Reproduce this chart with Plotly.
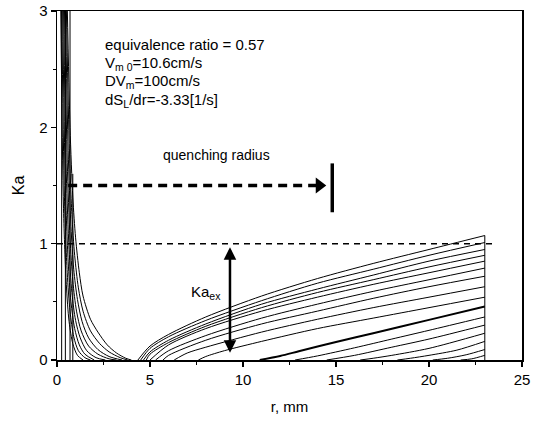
import plotly.graph_objects as go

# ---- data ----
# right-hand family (r in mm, Ka)
right_r = [
    [4.35, 5, 6, 8, 11, 14, 17, 20, 23],
    [4.5, 5, 6, 8, 11, 14, 17, 20, 23],
    [4.65, 5, 6, 8, 11, 14, 17, 20, 23],
    [4.8, 5, 6, 8, 11, 14, 17, 20, 23],
    [5.0, 6, 8, 11, 14, 17, 20, 23],
    [5.3, 6, 8, 11, 14, 17, 20, 23],
    [5.7, 6, 8, 11, 14, 17, 20, 23],
    [6.3, 7, 8, 11, 14, 17, 20, 23],
    [7.6, 8, 9, 11, 14, 17, 20, 23],
    [10.9, 12, 13, 15, 17, 20, 23],
    [12.8, 14, 16, 18, 20, 23],
    [14.5, 16, 18, 20, 23],
    [16.3, 17, 18, 20, 23],
    [18.3, 19, 20, 21.5, 23],
    [20.2, 21, 22, 23],
    [21.7, 22.3, 23],
]
right_ka = [
    [0, 0.12, 0.22, 0.37, 0.55, 0.70, 0.83, 0.95, 1.07],
    [0, 0.10, 0.20, 0.34, 0.51, 0.66, 0.78, 0.90, 1.01],
    [0, 0.07, 0.17, 0.31, 0.48, 0.61, 0.73, 0.85, 0.95],
    [0, 0.05, 0.15, 0.29, 0.45, 0.58, 0.69, 0.80, 0.90],
    [0, 0.13, 0.27, 0.42, 0.54, 0.65, 0.75, 0.85],
    [0, 0.08, 0.21, 0.36, 0.48, 0.59, 0.69, 0.79],
    [0, 0.04, 0.17, 0.31, 0.42, 0.53, 0.63, 0.72],
    [0, 0.06, 0.11, 0.24, 0.35, 0.45, 0.54, 0.63],
    [0, 0.03, 0.08, 0.16, 0.27, 0.36, 0.45, 0.54],
    [0, 0.035, 0.075, 0.155, 0.23, 0.345, 0.46],
    [0, 0.035, 0.105, 0.18, 0.255, 0.37],
    [0, 0.04, 0.11, 0.18, 0.30],
    [0, 0.015, 0.04, 0.10, 0.23],
    [0, 0.015, 0.04, 0.085, 0.16],
    [0, 0.015, 0.045, 0.09],
    [0, 0.01, 0.04],
]
thick_index = 9

# left-hand family
left_r = [
    [0.55, 0.7, 0.85, 1.0, 1.2, 1.4, 1.8, 2.2, 2.7, 3.2, 3.7, 4.0],
    [0.5, 0.65, 0.8, 0.95, 1.15, 1.4, 1.8, 2.3, 2.8, 3.4, 3.8],
    [0.45, 0.6, 0.75, 0.9, 1.1, 1.35, 1.7, 2.2, 2.8, 3.5],
    [0.4, 0.55, 0.7, 0.85, 1.05, 1.3, 1.7, 2.2, 2.8, 3.2],
    [0.35, 0.5, 0.65, 0.8, 1.0, 1.25, 1.6, 2.1, 2.6],
    [0.3, 0.45, 0.6, 0.75, 0.95, 1.2, 1.5, 2.0],
    [0.25, 0.4, 0.55, 0.7, 0.9, 1.15, 1.5, 1.8],
    [0.2, 0.35, 0.5, 0.65, 0.85, 1.1, 1.4],
]
left_ka = [
    [3.05, 2.0, 1.4, 1.05, 0.75, 0.55, 0.35, 0.24, 0.13, 0.06, 0.015, 0],
    [3.05, 1.9, 1.25, 0.9, 0.62, 0.42, 0.25, 0.14, 0.07, 0.02, 0],
    [3.05, 1.8, 1.15, 0.78, 0.52, 0.33, 0.19, 0.09, 0.03, 0],
    [3.05, 1.7, 1.05, 0.68, 0.42, 0.25, 0.12, 0.05, 0.01, 0],
    [3.05, 1.6, 0.95, 0.58, 0.34, 0.19, 0.08, 0.02, 0],
    [3.05, 1.5, 0.85, 0.5, 0.27, 0.13, 0.05, 0],
    [3.05, 1.4, 0.75, 0.42, 0.2, 0.08, 0.02, 0],
    [3.05, 1.3, 0.65, 0.33, 0.14, 0.04, 0],
]
# near-vertical lines in the left bundle
vert_r = [0.25, 0.45, 0.7, 0.85]
vert_top = [3.05, 3.05, 3.05, 1.6]

end_r = 23.0
end_top = 1.07
unity_r = [0.0, 23.5]
unity_ka = [1.0, 1.0]
quench_r = [0.6, 14.1]
quench_ka = [1.5, 1.5]
quench_bar_r = 14.8
quench_bar_ka = [1.27, 1.69]
kaex_r = 9.3
kaex_ka = [0.05, 0.97]

fig = go.Figure()
line_style = dict(color="black", width=1, shape="spline", smoothing=0.8)

for i, (xs, ys) in enumerate(zip(right_r, right_ka)):
    w = 2 if i == thick_index else 1
    fig.add_trace(go.Scatter(x=xs, y=ys, mode="lines",
                             line=dict(color="black", width=w, shape="spline", smoothing=0.8),
                             hoverinfo="skip"))
for xs, ys in zip(left_r, left_ka):
    fig.add_trace(go.Scatter(x=xs, y=ys, mode="lines", line=line_style, hoverinfo="skip"))
for vr, vt in zip(vert_r, vert_top):
    fig.add_trace(go.Scatter(x=[vr, vr], y=[0, vt], mode="lines",
                             line=dict(color="black", width=1), hoverinfo="skip"))
fig.add_trace(go.Scatter(x=[end_r, end_r], y=[0, end_top], mode="lines",
                         line=dict(color="black", width=1), hoverinfo="skip"))
# Ka = 1 dashed line
fig.add_trace(go.Scatter(x=unity_r, y=unity_ka, mode="lines",
                         line=dict(color="black", width=1.5, dash="6px,5px"), hoverinfo="skip"))
# quenching radius dashed arrow
fig.add_trace(go.Scatter(x=quench_r, y=quench_ka, mode="lines",
                         line=dict(color="black", width=3.5, dash="9px,6px"), hoverinfo="skip"))
fig.add_trace(go.Scatter(x=[quench_r[1]], y=[quench_ka[1]], mode="markers",
                         marker=dict(symbol="triangle-right", size=14, color="black"),
                         hoverinfo="skip"))
fig.add_trace(go.Scatter(x=[quench_bar_r, quench_bar_r], y=quench_bar_ka, mode="lines",
                         line=dict(color="black", width=3.5), hoverinfo="skip"))

# Ka_ex double arrow
fig.add_annotation(x=kaex_r, y=kaex_ka[1], ax=kaex_r, ay=kaex_ka[0],
                   xref="x", yref="y", axref="x", ayref="y", text="",
                   showarrow=True, arrowhead=2, startarrowhead=2, arrowside="end+start",
                   arrowwidth=2.5, arrowsize=1, startarrowsize=1, arrowcolor="black")
fig.add_annotation(x=8.0, y=0.58, xref="x", yref="y", text="Ka<sub>ex</sub>",
                   showarrow=False, font=dict(size=15, color="black"))
fig.add_annotation(x=8.55, y=1.76, xref="x", yref="y", text="quenching radius",
                   showarrow=False, font=dict(size=14, color="black"))

info = ["equivalence ratio = 0.57",
        "V<sub>m 0</sub>=10.6cm/s",
        "DV<sub>m</sub>=100cm/s",
        "dS<sub>L</sub>/dr=-3.33[1/s]"]
for k, t in enumerate(info):
    fig.add_annotation(x=2.47, y=2.71 - k * 0.159, xref="x", yref="y", text=t,
                       xanchor="left", yanchor="middle", showarrow=False,
                       font=dict(size=15, color="black"))

axis_common = dict(showline=True, linecolor="black", linewidth=1.5, mirror=True,
                   ticks="outside", ticklen=5, tickwidth=1.2, tickcolor="black",
                   showgrid=False, zeroline=False, automargin=False,
                   ticklabeloverflow="allow",
                   tickfont=dict(size=15, color="black"))
fig.update_layout(
    width=539, height=421,
    margin=dict(l=57, r=17, t=11, b=61, autoexpand=False),
    paper_bgcolor="white", plot_bgcolor="white",
    showlegend=False,
    font=dict(family="Arial, Liberation Sans, sans-serif", color="black"),
    xaxis=dict(range=[0, 25], dtick=5, tick0=0,
               minor=dict(dtick=2.5, ticklen=3, ticks="outside", tickcolor="black"),
               title=dict(text="r, mm", font=dict(size=15), standoff=15),
               **axis_common),
    yaxis=dict(range=[0, 3], dtick=1, tick0=0,
               minor=dict(dtick=0.5, ticklen=3, ticks="outside", tickcolor="black"),
               title=dict(text="Ka", font=dict(size=16), standoff=10),
               **axis_common),
)
fig.write_html("out.html", config={"displayModeBar": False, "staticPlot": True},
               post_script="document.body.style.margin='0';document.body.style.overflow='hidden';")
